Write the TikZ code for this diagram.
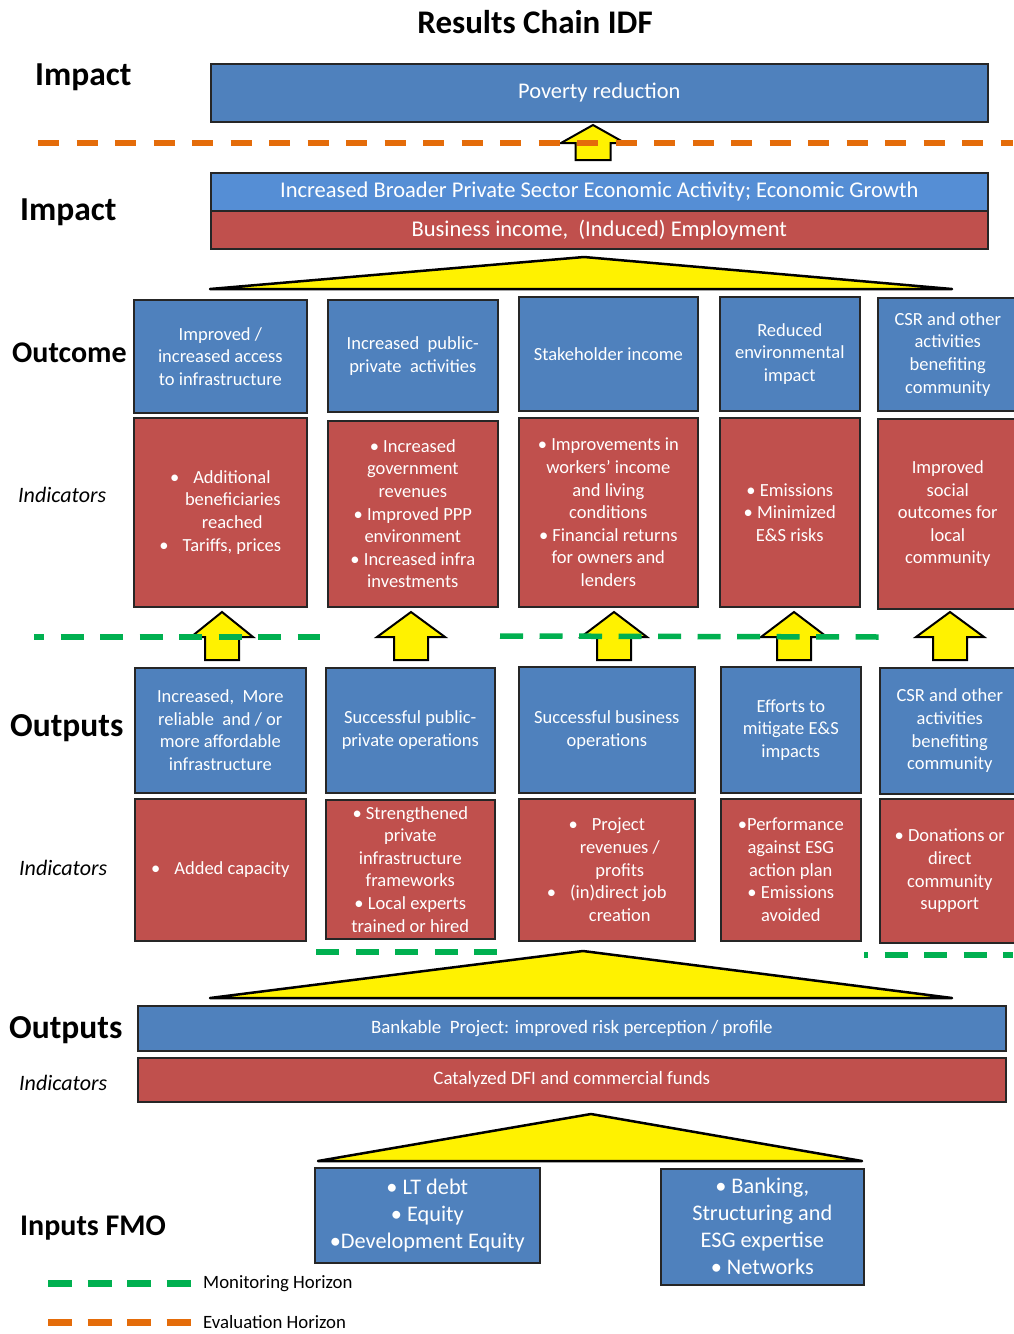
\documentclass[tikz,border=0pt]{standalone}
\usepackage{fontspec}
\setmainfont{Carlito}
\definecolor{cblue}{HTML}{4F81BD}
\definecolor{cbluelt}{HTML}{558ED5}
\definecolor{cred}{HTML}{C0504D}
\definecolor{cgreen}{HTML}{00B050}
\definecolor{corange}{HTML}{E46C0A}
\newcommand\yelarrow[6]{%
  \draw[blockarr] (#1,#2) -- (#1+#5,#3) -- (#1+#6,#3) -- (#1+#6,#4) -- (#1-#6,#4) -- (#1-#6,#3) -- (#1-#5,#3) -- cycle;}
\tikzset{
  cbox/.style={draw=black!85, line width=1.6pt, text=white, align=center, inner sep=0pt, anchor=north west, font=\fontsize{18.5}{22.6}\selectfont},
  bluebox/.style={cbox, fill=cblue},
  redbox/.style={cbox, fill=cred},
  lbl/.style={font=\fontsize{33.5}{38}\selectfont\bfseries, anchor=base west, inner sep=0pt},
  ind/.style={font=\fontsize{22}{26}\selectfont\itshape, anchor=base west, inner sep=0pt},
  legtext/.style={font=\fontsize{18.8}{22}\selectfont, anchor=base west, inner sep=0pt},
  tri/.style={fill=yellow, draw=black, line width=2.5pt, line join=round},
  blockarr/.style={fill=yellow, draw=black, line width=2pt, line join=miter},
  monline/.style={draw=cgreen, line width=5.5pt, dash pattern=on 23pt off 16.5pt},
  evalline/.style={draw=corange, line width=5.5pt, dash pattern=on 21pt off 17.5pt},
  legline/.style={line width=7pt, dash pattern=on 24pt off 15.5pt},
}
\begin{document}
\begin{tikzpicture}[x=1pt,y=-1pt]
\useasboundingbox (0,0) rectangle (1013,1334);

% title and row labels
\node[font=\fontsize{33}{38}\selectfont\bfseries, anchor=base, inner sep=0pt] (title) at (535,33) {Results Chain IDF};
\node[lbl] (limp1) at (35,85) {Impact};
\node[lbl] (limp2) at (20,220) {Impact};
\node[lbl, font=\fontsize{30}{36}\selectfont\bfseries] (lout) at (12,362) {Outcome};
\node[ind] (lind1) at (18,502) {Indicators};
\node[lbl] (lop1) at (10,736) {Outputs};
\node[ind] (lind2) at (19,875) {Indicators};
\node[lbl] (lop2) at (9,1038) {Outputs};
\node[ind] (lind3) at (19,1090) {Indicators};
\node[lbl, font=\fontsize{30}{36}\selectfont\bfseries] (linp) at (20,1235) {Inputs FMO};

% impact boxes
\node[bluebox, minimum width=777pt, minimum height=58pt, font=\fontsize{22.4}{26}\selectfont] (pov) at (210,63) {Poverty reduction};
\node[cbox, fill=cbluelt, minimum width=777pt, minimum height=38pt, font=\fontsize{22.5}{26}\selectfont] (ibr) at (210,172) {Increased Broader Private Sector Economic Activity; Economic Growth};
\node[redbox, minimum width=777pt, minimum height=38pt, font=\fontsize{22.5}{26}\selectfont] (bus) at (210,210) {Business income,\ \ (Induced) Employment};

\draw[tri] (210,289) -- (584,257) -- (952,289) -- cycle;

% outcome row
\node[bluebox, minimum width=173pt, minimum height=113pt] (oc1) at (133,299) {Improved /\\increased access\\to infrastructure};
\node[bluebox, minimum width=170pt, minimum height=112pt] (oc2) at (327,299) {Increased\ \ public-\\private\ \ activities};
\node[bluebox, minimum width=179pt, minimum height=114pt] (oc3) at (518,296) {Stakeholder income};
\node[bluebox, minimum width=140pt, minimum height=114pt] (oc4) at (719,296) {Reduced\\environmental\\impact};
\node[bluebox, minimum width=140pt, minimum height=113pt] (oc5) at (877,297) {CSR and other\\activities\\benefiting\\community};

\node[redbox, minimum width=173pt, minimum height=189pt] (oi1) at (133,417) {\textbullet\hspace{14pt}Additional\\\hspace*{25pt}beneficiaries\\\hspace*{24pt}reached\\\textbullet\hspace{14pt}Tariffs, prices};
\node[redbox, minimum width=170pt, minimum height=186pt] (oi2) at (327,420) {\textbullet\ Increased\\government\\revenues\\\textbullet\ Improved PPP\\environment\\\textbullet\ Increased infra\\investments};
\node[redbox, minimum width=179pt, minimum height=189pt] (oi3) at (518,417) {\textbullet\ Improvements in\\workers’ income\\and living\\conditions\\\textbullet\ Financial returns\\for owners and\\lenders};
\node[redbox, minimum width=140pt, minimum height=189pt] (oi4) at (719,417) {\textbullet\ Emissions\\\textbullet\ Minimized\\E\&S risks};
\node[redbox, minimum width=140pt, minimum height=190pt] (oi5) at (877,418) {Improved\\social\\outcomes for\\local\\community};

% outputs row
\node[bluebox, minimum width=171pt, minimum height=125pt] (op1) at (134,667) {Increased,\ \ More\\reliable\ \ and / or\\more affordable\\infrastructure};
\node[bluebox, minimum width=169pt, minimum height=125pt] (op2) at (325,667) {Successful public-\\private operations};
\node[bluebox, minimum width=176pt, minimum height=126pt] (op3) at (518,666) {Successful business\\operations};
\node[bluebox, minimum width=140pt, minimum height=126pt] (op4) at (720,666) {Efforts to\\mitigate E\&S\\impacts};
\node[bluebox, minimum width=140pt, minimum height=126pt] (op5) at (879,667) {CSR and other\\activities\\benefiting\\community};

\node[redbox, minimum width=171pt, minimum height=142pt] (pi1) at (134,798) {\textbullet\hspace{14pt}Added capacity};
\node[redbox, minimum width=169pt, minimum height=139pt] (pi2) at (325,799) {\textbullet\ Strengthened\\private\\infrastructure\\frameworks\\\textbullet\ Local experts\\trained or hired};
\node[redbox, minimum width=176pt, minimum height=142pt] (pi3) at (518,798) {\textbullet\hspace{14pt}Project\\\hspace*{26pt}revenues /\\\hspace*{26pt}profits\\\textbullet\hspace{14pt}(in)direct job\\\hspace*{26pt}creation};
\node[redbox, minimum width=140pt, minimum height=142pt] (pi4) at (720,798) {\textbullet Performance\\against ESG\\action plan\\\textbullet\ Emissions\\avoided};
\node[redbox, minimum width=140pt, minimum height=144pt] (pi5) at (879,798) {\textbullet\ Donations or\\direct\\community\\support};

\draw[tri] (210,998) -- (583,951) -- (952,998) -- cycle;

% bankable project
\node[bluebox, minimum width=868pt, minimum height=45pt, font=\fontsize{18.9}{22}\selectfont] (bank) at (137,1005) {Bankable\ \ Project: improved risk perception / profile};
\node[redbox, minimum width=868pt, minimum height=44pt, font=\fontsize{18.9}{22}\selectfont] (cat) at (137,1057) {Catalyzed DFI and commercial funds};

\draw[tri] (318,1161) -- (591,1114) -- (862,1161) -- cycle;

% inputs
\node[bluebox, minimum width=225pt, minimum height=95pt, font=\fontsize{22.3}{27}\selectfont] (in1) at (314,1167) {\textbullet\ LT debt\\\textbullet\ Equity\\\textbullet Development Equity};
\node[bluebox, minimum width=203pt, minimum height=116pt, font=\fontsize{22.3}{27}\selectfont] (in2) at (660,1168) {\textbullet\ Banking,\\Structuring and\\ESG expertise\\\textbullet\ Networks};

% block arrows
\yelarrow{593}{125}{143}{160}{32}{17.5}
\yelarrow{222}{612}{637}{660}{31}{17}
\yelarrow{411}{612}{637}{660}{34}{17}
\yelarrow{614}{612}{637}{660}{33}{17}
\yelarrow{794}{612}{637}{660}{33}{17}
\yelarrow{950}{612}{637}{660}{34}{17}

% horizons
\coordinate (ev1) at (38,143); \coordinate (ev2) at (1013,143);
\draw[evalline] (ev1) -- (ev2);
\coordinate (mo1) at (34,637); \coordinate (mo2) at (320,637);
\draw[monline, dash phase=13pt] (mo1) -- (mo2);
\coordinate (mo3) at (500,636); \coordinate (mo4) at (880,637);
\draw[monline] (mo3) -- (mo4);
\coordinate (mo5) at (316,952); \coordinate (mo6) at (497,952);
\draw[monline] (mo5) -- (mo6);
\coordinate (mo7) at (864,955); \coordinate (mo8) at (1013,955);
\draw[monline, dash phase=19pt] (mo7) -- (mo8);

% legend
\coordinate (lg1) at (48,1283); \coordinate (lg2) at (191,1283);
\draw[legline, draw=cgreen] (lg1) -- (lg2);
\node[legtext] (lgt1) at (203,1288) {Monitoring Horizon};
\coordinate (lg3) at (48,1322); \coordinate (lg4) at (191,1322);
\draw[legline, draw=corange] (lg3) -- (lg4);
\node[legtext] (lgt2) at (203,1328) {Evaluation Horizon};
\end{tikzpicture}
\end{document}
